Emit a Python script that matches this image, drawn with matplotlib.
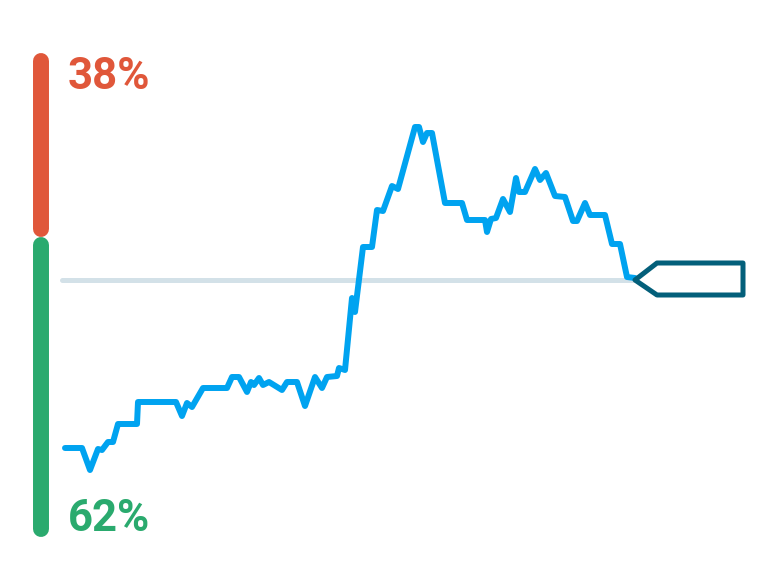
import numpy as np
import matplotlib
matplotlib.use("Agg")
import matplotlib.pyplot as plt
from matplotlib.patches import Polygon

# series (x = time step, y = level above the baseline)
line_x = [0, 17, 25, 33, 37, 43, 48, 53, 72, 73, 111, 117, 122, 127, 138, 162, 167,
          174, 182, 186, 189, 194, 198, 204, 217, 222, 232, 240, 250, 257, 262, 272,
          274, 280, 287, 290, 298, 307, 312, 318, 327, 333, 350, 354, 358, 362, 367,
          380, 397, 402, 420, 422, 426, 431, 438, 445, 451, 454, 460, 470, 475, 481,
          490, 500, 508, 512, 520, 525, 540, 547, 555, 562, 570]
line_y = [-168, -168, -190, -169, -170, -162, -162, -144, -144, -122, -122, -136, -123,
          -127, -108, -108, -97, -97, -112, -102, -105, -98, -105, -102, -110, -102,
          -102, -126, -97, -108, -97, -96, -88, -90, -18, -32, 33, 33, 70, 69, 94, 91,
          153, 153, 138, 147, 147, 77, 77, 60, 60, 48, 61, 62, 81, 68, 102, 88, 88,
          111, 100, 107, 84, 83, 59, 59, 77, 65, 65, 36, 36, 3, 2]
baseline = 0

shares = [38, 62]
share_labels = ["38%", "62%"]
share_colors = ["#e0573a", "#2aaa6e"]

BLUE = "#00a3f0"
TEAL = "#035f7a"
GREY = "#d3e1e8"

fig = plt.figure(figsize=(7.8, 5.82), dpi=100)
ax = fig.add_axes([0, 0, 1, 1])
ax.set_xlim(-65, 715)
ax.set_ylim(-302, 280)
ax.axis("off")

# baseline
ax.plot([-3, line_x[-1]], [baseline, baseline], color=GREY, lw=3.6,
        solid_capstyle="round", zorder=1)

# the series
ax.plot(line_x, line_y, color=BLUE, lw=4.3, solid_joinstyle="round",
        solid_capstyle="round", zorder=3)

# split bar on the left
top, bottom, bx = 227, -257, -24
r = 8
total = top - bottom
split = top - total * shares[0] / 100
ax.plot([bx, bx], [top - r, split + r], color=share_colors[0], lw=11.5,
        solid_capstyle="round")
ax.plot([bx, bx], [split - r, bottom + r], color=share_colors[1], lw=11.5,
        solid_capstyle="round")

ax.text(3, 203, share_labels[0], color=share_colors[0], fontsize=31.5,
        fontweight="bold", family="Roboto", va="center", ha="left")
ax.text(3, -239, share_labels[1], color=share_colors[1], fontsize=31.5,
        fontweight="bold", family="Roboto", va="center", ha="left")

# tag marker at the end of the series
ex, ey = line_x[-1], baseline
tag = Polygon([[ex, ey], [ex + 22, ey + 17], [ex + 108, ey + 17],
               [ex + 108, ey - 15], [ex + 22, ey - 15]], closed=True,
              facecolor="white", edgecolor=TEAL, lw=3.6, joinstyle="round", zorder=4)
ax.add_patch(tag)

fig.savefig("out.png", dpi=100)
